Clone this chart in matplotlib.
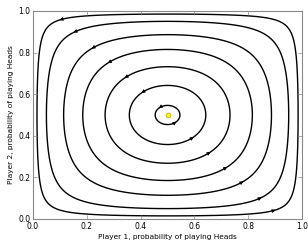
import numpy as np
import matplotlib.pyplot as plt
from matplotlib.patches import Polygon

# where each orbit crosses y = 0.5
x_start = [0.546, 0.642, 0.732, 0.815, 0.886, 0.950, 0.985]
equilibrium = [0.5, 0.5]
arrow_angles = [131, -49]  # degrees round the centre, where arrows sit
xticks = [0.0, 0.2, 0.4, 0.6, 0.8, 1.0]
yticks = [0.0, 0.2, 0.4, 0.6, 0.8, 1.0]


def field(p):
    x, y = p
    return np.array([x*(1-x)*(1-2*y), y*(1-y)*(2*x-1)])


def f(q):
    v = field(q)
    return v/np.linalg.norm(v)


def orbit(x0, ds=0.0005):
    # integrate along normalised field for one full turn
    p = np.array([x0, 0.5])
    pts = [p.copy()]
    turn = 0.0
    last = 0.0
    for _ in range(40000):
        k1 = f(p)
        k2 = f(p + ds/2*k1)
        k3 = f(p + ds/2*k2)
        k4 = f(p + ds*k3)
        p = p + ds/6*(k1 + 2*k2 + 2*k3 + k4)
        a = np.arctan2(p[1]-0.5, p[0]-0.5)
        d = (a - last + np.pi) % (2*np.pi) - np.pi
        turn += d
        last = a
        if turn >= 2*np.pi:
            break
        pts.append(p.copy())
    return np.array(pts)


fig = plt.figure(figsize=(3.08, 2.49), dpi=100)
ax = fig.add_axes([0.107, 0.1205, 0.874, 0.8355])

for x0 in x_start:
    pts = orbit(x0)
    ax.add_patch(Polygon(pts, closed=True, fill=False, edgecolor='k',
                         lw=1.0, joinstyle='round'))
    ang = np.degrees(np.arctan2(pts[:, 1]-0.5, pts[:, 0]-0.5))
    for a in arrow_angles:
        diff = np.abs((ang - a + 180) % 360 - 180)
        i = int(np.argmin(diff[20:-20])) + 20
        ax.annotate('', xy=pts[i+8], xytext=pts[i-4],
                    arrowprops=dict(arrowstyle='-|>', color='k', lw=0.6,
                                    mutation_scale=5, shrinkA=0, shrinkB=0))

ax.plot(equilibrium[0], equilibrium[1], 'o', color='#ffff00', mec='#b0a000',
        ms=3.5, mew=0.5)

ax.set_xlim(0, 1)
ax.set_ylim(0, 1)
ax.set_xticks(xticks)
ax.set_yticks(yticks)
ax.tick_params(direction='in', top=True, right=True, labelsize=5.5,
               length=3, width=0.5, color='#888888', pad=2)
for s in ax.spines.values():
    s.set_color('#888888')
    s.set_linewidth(0.8)
ax.set_xlabel('Player 1, probability of playing Heads', fontsize=5.3, labelpad=2)
ax.set_ylabel('Player 2, probability of playing Heads', fontsize=5.3, labelpad=3)
fig.savefig('out.png', dpi=100)
